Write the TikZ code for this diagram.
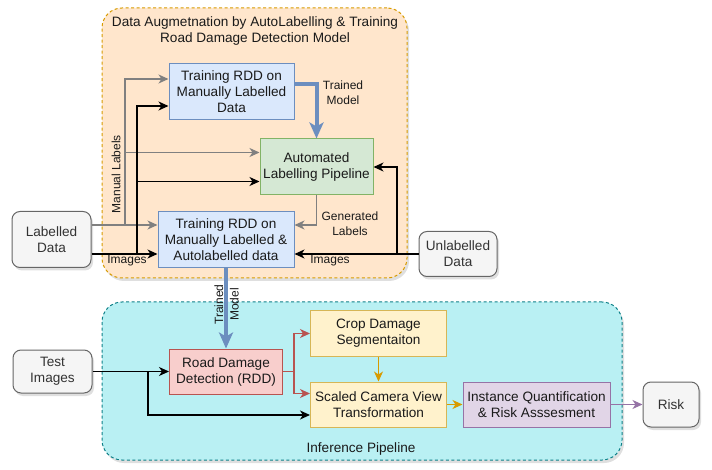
\documentclass[tikz,border=0pt]{standalone}
\usepackage{fontspec}
\setmainfont{Liberation Sans}
\usetikzlibrary{arrows.meta,shadows}

\definecolor{augfill}{HTML}{FFE6CC}
\definecolor{augline}{HTML}{D79B00}
\definecolor{inffill}{HTML}{B9F0F3}
\definecolor{infline}{HTML}{0E8088}
\definecolor{bluefill}{HTML}{DAE8FC}
\definecolor{blueline}{HTML}{6C8EBF}
\definecolor{greenfill}{HTML}{D5E8D4}
\definecolor{greenline}{HTML}{82B366}
\definecolor{redfill}{HTML}{F8CECC}
\definecolor{redline}{HTML}{B85450}
\definecolor{yellowfill}{HTML}{FFF2CC}
\definecolor{yellowline}{HTML}{D6B656}
\definecolor{purplefill}{HTML}{E1D5E7}
\definecolor{purpleline}{HTML}{9673A6}
\definecolor{greyfill}{HTML}{F5F5F5}
\definecolor{greyline}{HTML}{666666}
\definecolor{labelgrey}{HTML}{808080}
\definecolor{txt}{HTML}{1A1A1A}

\newcommand{\boxfont}{\fontsize{13.6}{16}\selectfont}
\newcommand{\lblfont}{\fontsize{12}{15.5}\selectfont}

\begin{document}
\begin{tikzpicture}[x=1pt,y=-1pt,
    box/.style={draw,line width=1pt,align=center,inner sep=0pt,font=\boxfont,text=txt},
    bluebox/.style={box,fill=bluefill,draw=blueline},
    greenbox/.style={box,fill=greenfill,draw=greenline},
    redbox/.style={box,fill=redfill,draw=redline},
    yellowbox/.style={box,fill=yellowfill,draw=yellowline},
    purplebox/.style={box,fill=purplefill,draw=purpleline},
    databox/.style={box,fill=greyfill,draw=greyline,text=black!80,rounded corners=8pt,
        drop shadow={shadow xshift=2pt,shadow yshift=-3pt,opacity=0.25}},
    group/.style={draw,line width=1pt,dash pattern=on 3pt off 2.5pt,rounded corners=20pt,
        inner sep=0pt,drop shadow={shadow xshift=2pt,shadow yshift=-3pt,opacity=0.25}},
    lbl/.style={align=center,inner sep=0pt,font=\lblfont,text=txt},
    arr/.style={line width=1.3pt,-{Stealth[length=10pt,width=9pt,inset=3pt]}},
    blackarrow/.style={arr,draw=black},
    greyarrow/.style={arr,draw=labelgrey},
    bigarrow/.style={draw=blueline,line width=4pt,-{Stealth[length=16pt,width=14pt,inset=4pt]}}
    ]
    \useasboundingbox (0,0) rectangle (712,470);

    % the two pipelines
    \node[group,fill=augfill,draw=augline,minimum width=305,minimum height=270] (aug) at (254.5,143) {};
    \node[group,fill=inffill,draw=infline,minimum width=520,minimum height=158] (inf) at (362,381) {};

    \node[lbl,font=\boxfont] (title) at (255,31) {Data Augmetnation by AutoLabelling \& Training\\Road Damage Detection Model};
    \node[lbl,font=\boxfont] (inflbl) at (361,449) {Inference Pipeline};

    % boxes of the autolabelling part
    \node[bluebox,minimum width=125,minimum height=56] (trainA) at (231.5,92) {Training RDD on\\Manually Labelled\\Data};
    \node[greenbox,minimum width=113,minimum height=56] (autolab) at (316.5,167) {Automated\\Labelling Pipeline};
    \node[bluebox,minimum width=136,minimum height=56] (trainB) at (226,239.5) {Training RDD on\\Manually Labelled \&\\Autolabelled data};
    \node[databox,minimum width=79,minimum height=56] (labdata) at (51.5,239.5) {Labelled\\Data};
    \node[databox,minimum width=78,minimum height=45] (unlabdata) at (458,254) {Unlabelled\\Data};

    % boxes of the inference part
    \node[databox,minimum width=79,minimum height=43] (testimg) at (52.5,371.5) {Test\\Images};
    \node[redbox,minimum width=113,minimum height=45] (rdd) at (226,371.5) {Road Damage\\Detection (RDD)};
    \node[yellowbox,minimum width=136,minimum height=45] (crop) at (378.5,333.5) {Crop Damage\\Segmentaiton};
    \node[yellowbox,minimum width=136,minimum height=45] (scaled) at (378.5,404.5) {Scaled Camera View\\Transformation};
    \node[purplebox,minimum width=147,minimum height=45] (quant) at (536.5,404.5) {Instance Quantification\\\& Risk Asssesment};
    \node[databox,minimum width=56,minimum height=45] (risk) at (671,404.5) {Risk};

    % junctions
    \coordinate (mlsplit) at (125,225);
    \coordinate (mlauto) at (125,152.5);
    \coordinate (imsplit) at (137,254);
    \coordinate (imauto) at (137,181.5);
    \coordinate (unsplit) at (397,254);
    \coordinate (tisplit) at (148,371.5);
    \coordinate (rddsplit) at (294,371.5);

    % manual labels (grey)
    \draw[greyarrow] ([yshift=14.5pt]labdata.east) -- ([yshift=14.5pt]trainB.west);
    \draw[greyarrow] (mlsplit) |- ([yshift=13pt]trainA.west);
    \draw[greyarrow] (mlauto) -- (mlauto -| autolab.west);
    % images (black)
    \draw[blackarrow] ([yshift=-14.5pt]labdata.east) -- ([yshift=-14.5pt]trainB.west);
    \draw[blackarrow] (imsplit) |- ([yshift=-14pt]trainA.west);
    \draw[blackarrow] (imauto) -- (imauto -| autolab.west);
    \draw[blackarrow] (unlabdata.west) -- (unlabdata.west -| trainB.east);
    \draw[blackarrow] (unsplit) |- (autolab.east);
    % model and generated labels
    \draw[bigarrow] ([yshift=8pt]trainA.east) -| (autolab.north);
    \draw[greyarrow] (autolab.south) |- ([yshift=14.5pt]trainB.east);

    \node[lbl,rotate=90] (lblmanual) at (116,174) {Manual Labels};
    \node[lbl] (lblimgl) at (127,261) {Images};
    \node[lbl] (lbltrained) at (343,92.5) {Trained\\Model};
    \node[lbl] (lblgen) at (350,223.5) {Generated\\Labels};
    \node[lbl] (lblimgr) at (330,261) {Images};

    % inference
    \draw[bigarrow] (trainB.south) -- (rdd.north);
    \node[lbl,rotate=90] (lbltrained2) at (226.5,304.5) {Trained\\Model};
    \draw[blackarrow] (testimg.east) -- (rdd.west);
    \draw[blackarrow] (tisplit) |- ([yshift=-10.5pt]scaled.west);
    \draw[arr,draw=redline] (rdd.east) -- (rddsplit) |- (crop.west);
    \draw[arr,draw=redline] (rddsplit) |- ([yshift=11pt]scaled.west);
    \draw[arr,draw=augline] (crop.south) -- (scaled.north);
    \draw[arr,draw=augline] (scaled.east) -- (quant.west);
    \draw[arr,draw=purpleline] (quant.east) -- (risk.west);

\end{tikzpicture}
\end{document}
